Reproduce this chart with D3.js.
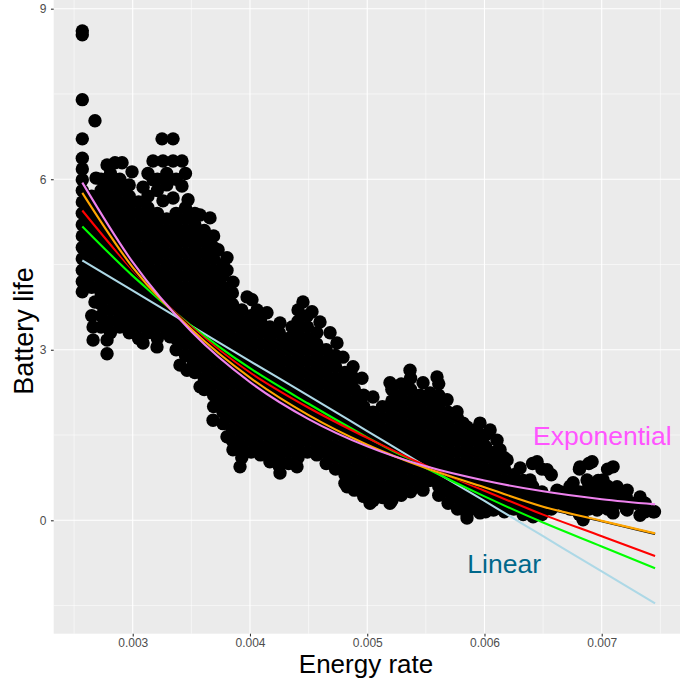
<!DOCTYPE html>
<html><head><meta charset="utf-8">
<script src="https://cdn.jsdelivr.net/npm/d3@7"></script>
<style>body{margin:0;background:#fff}svg{display:block}</style>
</head><body>
<script>
// ---------- data ----------
const xTicks = [0.003, 0.004, 0.005, 0.006, 0.007];
const xMinor = [0.0025, 0.0035, 0.0045, 0.0055, 0.0065, 0.0075];
const yTicks = [0, 3, 6, 9];
const yMinor = [-1.5, 1.5, 4.5, 7.5];

// dense point cloud, by column of energy rate
const columnRate = [0.00257,0.00265,0.00273,0.00281,0.00289,0.00297,0.00305,0.00313,0.00321,0.00329,
 0.00337,0.00345,0.00353,0.00361,0.00369,0.00377,0.00385,0.00393,0.00401,0.00409,
 0.00417,0.00425,0.00433,0.00441,0.00449,0.00457,0.00465,0.00473,0.00481,0.00489,
 0.00497,0.00505,0.00513,0.00521,0.00529,0.00537,0.00545,0.00553,0.00561,0.00569,
 0.00577,0.00585,0.00593,0.00601,0.00609,0.00617,0.00625,0.00633,0.00641,0.00649,
 0.00657,0.00665,0.00673,0.00681,0.00689,0.00697,0.00705,0.00713,0.00721,0.00729,
 0.00737,0.00745];
const columnLife = [
 [8.61,8.54,7.40,6.71,6.37,6.18,5.99,5.80,5.60,5.40,5.20,5.00,4.80,4.60,4.40,4.20,4.02],
 [5.7,5.5,5.3,5.1,4.9,4.7,4.5,4.3,4.1,3.6],
 [6.0,5.8,5.6,5.4,5.2,5.0,4.8,4.6,4.4,4.2,4.0,3.8,3.6,3.4],
 [6.1,5.9,5.7,5.5,5.3,5.1,4.9,4.7,4.5,4.3,4.1,3.9,3.7,3.5,3.3],
 [6.0,5.8,5.6,5.4,5.2,5.0,4.8,4.6,4.4,4.2,4.0,3.8,3.6,3.4],
 [5.9,5.7,5.5,5.3,5.1,4.9,4.7,4.5,4.3,4.1,3.9,3.7,3.5,3.3],
 [5.6,5.4,5.2,5.0,4.8,4.6,4.4,4.2,4.0,3.8,3.6,3.4,3.2],
 [6.1,5.7,5.5,5.3,5.1,4.9,4.7,4.5,4.3,4.1,3.9,3.7,3.5,3.3],
 [6.0,5.8,5.4,5.2,5.0,4.8,4.6,4.4,4.2,4.0,3.8,3.6,3.4,3.2],
 [6.1,5.9,5.3,5.1,4.9,4.7,4.5,4.3,4.1,3.9,3.7,3.5,3.3],
 [6.0,5.4,5.2,5.0,4.8,4.6,4.4,4.2,4.0,3.8,3.6,3.4,3.2,3.0],
 [6.1,5.5,5.3,5.1,4.9,4.7,4.5,4.3,4.1,3.9,3.7,3.5,3.3,3.1,2.9],
 [5.4,5.2,5.0,4.8,4.6,4.4,4.2,4.0,3.8,3.6,3.4,3.2,3.0,2.8,2.6],
 [5.1,4.9,4.7,4.5,4.3,4.1,3.9,3.7,3.5,3.3,3.1,2.9,2.7,2.5,2.3],
 [5.0,4.8,4.6,4.4,4.2,4.0,3.8,3.6,3.4,3.2,3.0,2.8,2.6,2.4,2.2,2.0],
 [4.5,4.3,4.1,3.9,3.7,3.5,3.3,3.1,2.9,2.7,2.5,2.3,2.1,1.9,1.7],
 [4.0,3.8,3.6,3.4,3.2,3.0,2.8,2.6,2.4,2.2,2.0,1.8,1.6,1.4],
 [3.7,3.5,3.3,3.1,2.9,2.7,2.5,2.3,2.1,1.9,1.7,1.5,1.3,1.1],
 [3.6,3.4,3.2,3.0,2.8,2.6,2.4,2.2,2.0,1.8,1.6,1.4,1.2],
 [3.5,3.3,3.1,2.9,2.7,2.5,2.3,2.1,1.9,1.7,1.5,1.3,1.15],
 [3.4,3.2,3.0,2.8,2.6,2.4,2.2,2.0,1.8,1.6,1.4,1.2,1.03],
 [3.3,3.1,2.9,2.7,2.5,2.3,2.1,1.9,1.7,1.5,1.3,1.1,0.95],
 [3.2,3.0,2.8,2.6,2.4,2.2,2.0,1.8,1.6,1.4,1.2,1.0],
 [3.7,3.5,3.3,3.1,2.9,2.7,2.5,2.3,2.1,1.9,1.7,1.5,1.3,1.1],
 [3.6,3.4,3.2,3.0,2.8,2.6,2.4,2.2,2.0,1.8,1.6,1.4,1.2],
 [3.3,3.1,2.9,2.7,2.5,2.3,2.1,1.9,1.7,1.5,1.3,1.15],
 [3.0,2.8,2.6,2.4,2.2,2.0,1.8,1.6,1.4,1.2,1.0],
 [2.9,2.7,2.5,2.3,2.1,1.9,1.7,1.5,1.3,1.1,0.9],
 [2.6,2.4,2.2,2.0,1.8,1.6,1.4,1.2,1.0,0.8,0.65],
 [2.5,2.3,2.1,1.9,1.7,1.5,1.3,1.1,0.9,0.7,0.53],
 [2.2,2.0,1.8,1.6,1.4,1.2,1.0,0.8,0.6,0.42],
 [1.9,1.7,1.5,1.3,1.1,0.9,0.7,0.5,0.35],
 [2.0,1.8,1.6,1.4,1.2,1.0,0.8,0.6,0.4],
 [2.3,2.1,1.9,1.7,1.5,1.3,1.1,0.9,0.7,0.5,0.35],
 [2.4,2.2,2.0,1.8,1.6,1.4,1.2,1.0,0.8,0.6,0.44],
 [2.5,2.3,2.1,1.9,1.7,1.5,1.3,1.1,0.9,0.7,0.5],
 [2.2,2.0,1.8,1.6,1.4,1.2,1.0,0.8,0.6],
 [2.1,1.9,1.7,1.5,1.3,1.1,0.9,0.7],
 [2.4,2.2,2.0,1.8,1.6,1.4,1.2,1.0,0.8,0.6,0.44],
 [1.9,1.7,1.5,1.3,1.1,0.9,0.7,0.5,0.3],
 [1.8,1.6,1.4,1.2,1.0,0.8,0.6,0.4,0.2],
 [1.5,1.3,1.1,0.9,0.7,0.5,0.3,0.1],
 [1.6,1.4,1.2,1.0,0.8,0.6,0.4,0.2],
 [1.5,1.3,1.1,0.9,0.7,0.5,0.3,0.15],
 [1.2,1.0,0.8,0.6,0.4,0.2],
 [1.1,0.9,0.7,0.5,0.3,0.15],
 [0.8,0.6,0.4,0.2],
 [0.7,0.5,0.3,0.1],
 [1.0,0.6,0.4,0.2],
 [0.9,0.5,0.3,0.1],
 [0.8,0.4,0.2],
 [0.5,0.3],
 [0.6,0.4,0.2],
 [0.9,0.5,0.3,0.1],
 [1.0,0.6,0.4,0.2],
 [0.7,0.5,0.3],
 [0.9,0.6,0.4,0.2],
 [0.5,0.3],
 [0.4,0.2],
 [0.3],
 [0.3,0.15],
 [0.15]
];

// individual edge / isolated points
const edgeRate = [0.003250,0.003344,0.003173,0.003258,0.003344,0.003420,0.003420,0.003173,0.003088,0.002994,
 0.002909,0.002849,0.002781,0.002687,0.002678,0.003258,0.003344,0.003472,0.003574,0.003659,
 0.003728,0.003804,0.003804,0.003855,0.003975,0.004017,0.004060,0.004145,0.004256,0.004359,
 0.004452,0.004529,0.004597,0.004683,0.004742,0.004793,0.004879,0.004955,0.005049,0.005194,
 0.005254,0.005365,0.005476,0.005595,0.005536,0.005681,0.005766,0.005817,0.005851,0.005962,
 0.006048,0.006107,0.006133,0.006193,0.006304,0.006449,0.006534,0.006389,0.006619,0.006756,
 0.006815,0.006918,0.006875,0.007012,0.007097,0.007131,0.007217,0.007327,0.007438,0.007327,
 0.007217,0.007097,0.006961,0.006841,0.006705,0.006415,0.006304,0.006077,0.005962,0.005851,
 0.003915,0.004256,0.004401,0.004828,0.005024,0.005194,0.005476,0.002781,0.002781,0.002662,
 0.002662,0.002678,0.002892,0.003003,0.003685,0.003804,0.003855,0.003574,0.003463,0.003403,
 0.003088,0.003207,0.003318,0.003429,0.003516,0.003745,0.003975,0.003975];
const edgeLife = [6.71,6.71,6.32,6.32,6.32,6.32,5.88,5.99,5.86,6.13,
 6.29,6.29,6.25,6.02,7.03,5.62,5.67,5.64,5.37,5.32,
 4.76,4.62,4.40,4.19,3.93,3.88,3.70,3.65,3.47,3.40,
 3.84,3.67,3.49,3.30,3.12,2.87,2.70,2.50,2.17,2.42,
 2.12,2.64,2.42,2.52,2.24,2.12,1.91,1.71,1.64,1.71,
 1.59,1.41,1.24,1.06,0.92,1.03,0.89,0.71,0.53,0.66,
 0.94,1.03,0.71,0.71,0.94,0.59,0.53,0.41,0.15,0.09,
 0.18,0.13,0.18,0.01,0.23,0.06,0.23,0.18,0.13,0.04,
 0.94,0.83,0.94,0.59,0.30,0.30,0.53,2.93,3.17,3.17,
 3.40,3.84,3.52,3.75,1.76,1.47,1.24,2.35,2.64,2.73,
 3.12,3.05,3.23,3.35,2.77,2.94,3.23,2.88];

// fitted curves, read at these energy rates
const fitRate = [0.00257,0.003,0.0035,0.004,0.0045,0.005,0.0055,0.006,0.0065,0.007,0.007455];
const fitLinear = [4.57,4.04,3.42,2.80,2.19,1.57,0.95,0.34,-0.28,-0.90,-1.46];
const fitGreen  = [5.17,4.30,3.42,2.675,2.05,1.46,0.92,0.42,-0.04,-0.46,-0.845];
const fitRed    = [5.45,4.40,3.40,2.60,1.98,1.45,0.96,0.52,0.10,-0.28,-0.63];
const fitBlack  = [5.62,4.42,3.38,2.55,1.91,1.38,0.93,0.57,0.225,-0.015,-0.24];
const fitOrange = [5.76,4.45,3.36,2.51,1.85,1.33,0.92,0.58,0.24,-0.01,-0.23];
const fitExp    = [5.94,4.54,3.32,2.43,1.78,1.30,0.95,0.70,0.51,0.37,0.28];
const fitColors = ["#add8e6","#00ff00","#ff0000","#000000","#ffa500","#ee82ee"];

const labelText  = ["Exponential","Linear"];
const labelRate  = [0.007005, 0.006168];
const labelLife  = [1.5, -0.75];
const labelColor = ["#ff55ff","#00688b"];

// ---------- drawing ----------
const W = 680, H = 679;
const panel = {left: 53.7, right: 683.8, top: 0, bottom: 633.7};
const x = d3.scaleLinear().domain([0.002326, 0.0077]).range([panel.left, panel.right]);
const y = d3.scaleLinear().domain([-1.995, 9.153]).range([panel.bottom, panel.top]);
const FONT = "'Liberation Sans', Arial, Helvetica, sans-serif";

const svg = d3.select("body").append("svg").attr("width", W).attr("height", H);
svg.append("rect").attr("width", W).attr("height", H).attr("fill", "#ffffff");
svg.append("rect").attr("x", panel.left).attr("y", panel.top)
  .attr("width", panel.right - panel.left).attr("height", panel.bottom - panel.top)
  .attr("fill", "#ebebeb");

const grid = svg.append("g");
grid.selectAll(".vminor").data(xMinor).join("line").attr("class","vminor")
  .attr("x1", d => x(d)).attr("x2", d => x(d)).attr("y1", panel.top).attr("y2", panel.bottom)
  .attr("stroke", "#fff").attr("stroke-width", 0.55);
grid.selectAll(".hminor").data(yMinor).join("line").attr("class","hminor")
  .attr("y1", d => y(d)).attr("y2", d => y(d)).attr("x1", panel.left).attr("x2", panel.right)
  .attr("stroke", "#fff").attr("stroke-width", 0.55);
grid.selectAll(".vmajor").data(xTicks).join("line").attr("class","vmajor")
  .attr("x1", d => x(d)).attr("x2", d => x(d)).attr("y1", panel.top).attr("y2", panel.bottom)
  .attr("stroke", "#fff").attr("stroke-width", 1.1);
grid.selectAll(".hmajor").data(yTicks).join("line").attr("class","hmajor")
  .attr("y1", d => y(d)).attr("y2", d => y(d)).attr("x1", panel.left).attr("x2", panel.right)
  .attr("stroke", "#fff").attr("stroke-width", 1.1);

// points
const pts = [];
columnRate.forEach((r, i) => columnLife[i].forEach(v => pts.push([r, v])));
edgeRate.forEach((r, i) => pts.push([r, edgeLife[i]]));
svg.append("g").selectAll("circle").data(pts).join("circle")
  .attr("cx", d => x(d[0])).attr("cy", d => y(d[1])).attr("r", 6.7).attr("fill", "#000");

// fitted lines
const fits = [fitLinear, fitGreen, fitRed, fitBlack, fitOrange, fitExp];
const line = d3.line().x(d => x(d[0])).y(d => y(d[1])).curve(d3.curveMonotoneX);
svg.append("g").selectAll("path").data(fits).join("path")
  .attr("d", vals => line(fitRate.map((r, i) => [r, vals[i]])))
  .attr("fill", "none").attr("stroke", (d, i) => fitColors[i]).attr("stroke-width", 2.1)
  .attr("stroke-linecap", "butt");

// labels
svg.append("g").selectAll("text").data(labelText).join("text")
  .attr("x", (d, i) => x(labelRate[i])).attr("y", (d, i) => y(labelLife[i]))
  .attr("dy", "0.37em").attr("text-anchor", "middle")
  .attr("font-family", FONT).attr("font-size", 26.5)
  .attr("fill", (d, i) => labelColor[i]).text(d => d);

// axes
const xAxis = svg.append("g").attr("transform", `translate(0,${panel.bottom})`)
  .call(d3.axisBottom(x).tickValues(xTicks).tickFormat(d3.format(".3f")).tickSize(2.75).tickPadding(1.8));
const yAxis = svg.append("g").attr("transform", `translate(${panel.left},0)`)
  .call(d3.axisLeft(y).tickValues(yTicks).tickFormat(d3.format("d")).tickSize(2.75).tickPadding(4.5));
[xAxis, yAxis].forEach(a => {
  a.select(".domain").remove();
  a.selectAll(".tick line").attr("stroke", "#333333").attr("stroke-width", 1.1);
  a.selectAll(".tick text").attr("fill", "#4d4d4d").attr("font-size", 12).attr("font-family", FONT);
});

// axis titles
svg.append("text").attr("x", 366).attr("y", 672.5).attr("text-anchor", "middle")
  .attr("font-family", FONT).attr("font-size", 26).attr("fill", "#000").text("Energy rate");
svg.append("text").attr("transform", "translate(33,331) rotate(-90)").attr("text-anchor", "middle")
  .attr("font-family", FONT).attr("font-size", 27).attr("fill", "#000").text("Battery life");
</script>
</body></html>
